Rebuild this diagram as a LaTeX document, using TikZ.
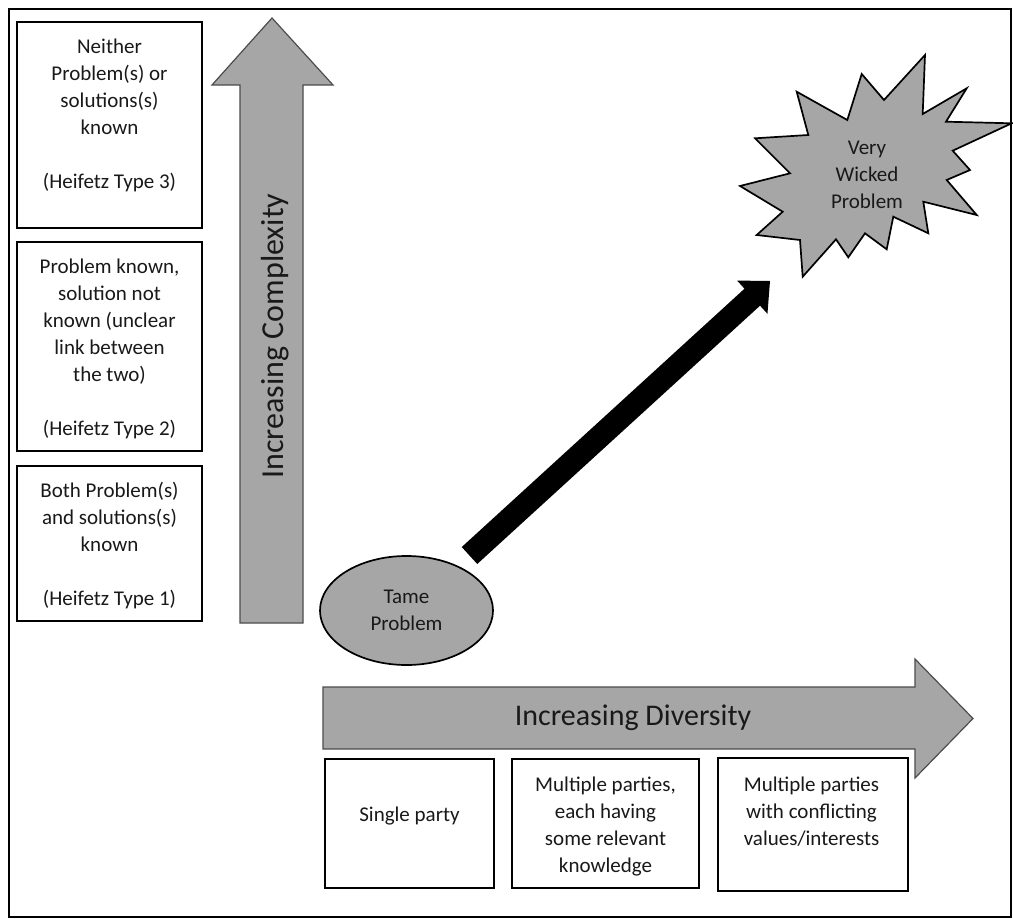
\documentclass[tikz,border=0pt]{standalone}
\usepackage{fontspec}
\setmainfont{Carlito}
\usetikzlibrary{calc,shapes.geometric}
\definecolor{fillgray}{RGB}{166,166,166}
\definecolor{inkc}{RGB}{25,25,25}
\begin{document}
\begin{tikzpicture}[x=1pt,y=-1pt,
  box/.style={draw=black, line width=1.7pt, fill=white, inner sep=0pt},
  txt/.style={font=\fontsize{21}{27}\selectfont, align=center, text=inkc, inner sep=0pt},
  axistxt/.style={font=\fontsize{#1}{#1}\selectfont, text=inkc, inner sep=0pt},
  bigarrow/.style={draw=black!70, line width=1.2pt, fill=fillgray, line join=miter},
  shapeline/.style={draw=black, line width=1.7pt, fill=fillgray},
]
\useasboundingbox (0,0) rectangle (1013,919);
% outer frame
\draw[line width=2pt] (9,9) rectangle (1011,917);

% left column boxes
\node[box, minimum width=185pt, minimum height=206pt] (b3) at (109.5,125) {};
\node[txt] (t3) at (109.5,115.5) {Neither\\Problem(s) or\\solutions(s)\\known\\[27pt](Heifetz Type 3)};
\node[box, minimum width=185pt, minimum height=209pt] (b2) at (109.5,346.5) {};
\node[txt] (t2) at (109.5,349) {Problem known,\\solution not\\known (unclear\\link between\\the two)\\[27pt](Heifetz Type 2)};
\node[box, minimum width=185pt, minimum height=155pt] (b1) at (109.5,543.5) {};
\node[txt] (t1) at (109.5,546) {Both Problem(s)\\and solutions(s)\\known\\[27pt](Heifetz Type 1)};

% vertical axis arrow
\draw[bigarrow] (240,623) -- (240,85) -- (212,85) -- (272,18) -- (333,85) -- (303,85) -- (303,623) -- cycle;
\node[axistxt=32, rotate=90] (vlab) at (275,336) {Increasing Complexity};

% horizontal axis arrow
\draw[bigarrow] (323,687) -- (915,687) -- (915,659) -- (973,718.5) -- (915,778) -- (915,749) -- (323,749) -- cycle;
\node[axistxt=30] (hlab) at (633,718) {Increasing Diversity};

% bottom boxes
\node[box, minimum width=169pt, minimum height=129pt] (ba) at (409.5,823.5) {};
\node[txt] (ta) at (409.5,816) {Single party};
\node[box, minimum width=187pt, minimum height=129pt] (bb) at (605.5,823.5) {};
\node[txt] (tb) at (605.5,827) {Multiple parties,\\each having\\some relevant\\knowledge};
\node[box, minimum width=190pt, minimum height=133pt] (bc) at (813,824.5) {};
\node[txt] (tc) at (811.5,811.5) {Multiple parties\\with conflicting\\values/interests};

% tame problem
\node[ellipse, shapeline, minimum width=173pt, minimum height=109pt, txt] (tame) at (406.5,610.5) {Tame\\Problem};

% starburst
\draw[shapeline, line join=miter] (925,55) -- (922.7,114) -- (966.7,88.3) -- (946,121.7) -- (1011.7,123.3)
  -- (952.7,150.7) -- (970,170) -- (946.7,180) -- (976.7,215) -- (923.3,201.7) -- (928.3,233.3)
  -- (893.3,216.7) -- (886.7,249.3) -- (865,233.3) -- (848.3,257.3) -- (836,239.3) -- (802.7,276.7)
  -- (800,240) -- (756.7,235) -- (782.7,211.7) -- (740,186) -- (790,173.3) -- (755,138.3)
  -- (808.3,135) -- (796.7,91.7) -- (847.3,120) -- (861.7,74) -- (884,100) -- cycle;
\node[txt] (wick) at (867,175) {Very\\Wicked\\Problem};

% diagonal arrow
\coordinate (ds) at (469.5,555.5);
\coordinate (de) at (770,281);
\coordinate (dm) at ($(de)!24pt!(ds)$);
\fill[black] ($(ds)!11.5pt!90:(de)$) -- ($(dm)!11.5pt!90:(de)$) -- ($(dm)!22.5pt!90:(de)$) -- (de)
  -- ($(dm)!22.5pt!-90:(de)$) -- ($(dm)!11.5pt!-90:(de)$) -- ($(ds)!11.5pt!-90:(de)$) -- cycle;
\end{tikzpicture}
\end{document}
